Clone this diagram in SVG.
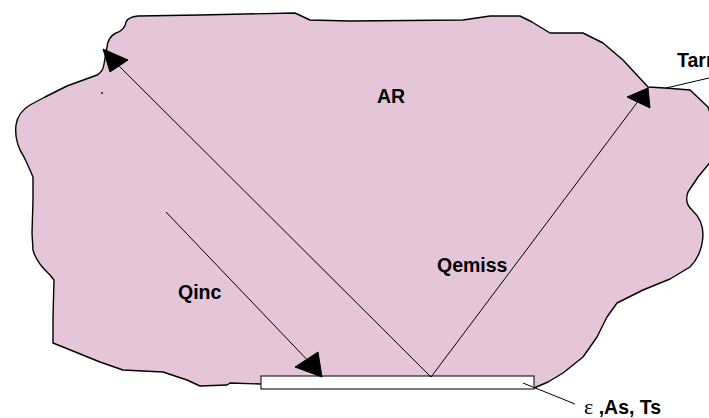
<svg xmlns="http://www.w3.org/2000/svg" width="709" height="418" viewBox="0 0 709 418">
<style>
.region{fill:#e5c6d9;stroke:#000;stroke-width:1.4;stroke-linejoin:round}
.ray{stroke:#000;stroke-width:1;fill:none}
.head{fill:#000;stroke:#000;stroke-width:1;stroke-linejoin:miter}
.lbl{font-family:"Liberation Sans",Arial,sans-serif;font-weight:bold;font-size:19.5px;fill:#000}
.sym{font-family:"Liberation Serif","Times New Roman",serif;font-weight:normal;font-size:22px}
</style>
<rect width="709" height="418" fill="#fff"/>
<g id="enclosure">
<path class="region" d="M138,16 L200,15 L295,13 L310,20 L350,21 L463,20 L490,16 L520,16 L532,22 L550,33 L583,33 L603,43 L623,60 L648,87 L665,88 L690,90 L708,107 L716,130 L712,160 L698,177 L688,192 Q684,203 692,210 Q703,220 703,235 Q702,255 690,267 L670,279 L643,290 L617,303 L607,317 L597,337 L583,357 L563,373 L548,382 L534,388 L261,384 L230,383 L227,385 L200,386 L187,380 L163,372 L123,370 L100,362 L63,347 L53,343 L53,317 L54,280 L50,275 Q36,262 33,250 L32,233 L33,200 L33,177 Q28,165 24,157 Q14,142 16,125 Q18,112 30,105 L45,97 L67,86 L97,75 Q103,72 104,64 L107,47 Q108,37 116,33 Q125,30 126,22 Q128,17 138,16 Z"/>
<circle cx="102" cy="93" r="0.9" fill="#000"/>
</g>
<g id="surface">
<rect x="261" y="376" width="273" height="13" fill="#fff" stroke="#333" stroke-width="1.3"/>
</g>
<g id="connectors">
<line class="ray" x1="431" y1="377" x2="110" y2="57"/>
<polygon class="head" points="103,49 128,60 110,72"/>
<line class="ray" x1="431" y1="377" x2="642" y2="96"/>
<polygon class="head" points="648,88 627,97 650,108"/>
<line class="ray" x1="166" y1="212" x2="314" y2="367"/>
<polygon class="head" points="322,377 295,367 318,352"/>
<line class="ray" x1="666" y1="88" x2="709" y2="78"/>
<line class="ray" x1="523" y1="383" x2="575" y2="404"/>
</g>
<g id="labels">
<text class="lbl" x="377" y="103">AR</text>
<text class="lbl" x="178" y="299">Qinc</text>
<text class="lbl" x="437" y="272">Qemiss</text>
<text class="lbl" x="677" y="67">Tarr</text>
<text class="lbl" x="584" y="414"><tspan class="sym">ε</tspan> ,As, Ts</text>
</g>
</svg>
